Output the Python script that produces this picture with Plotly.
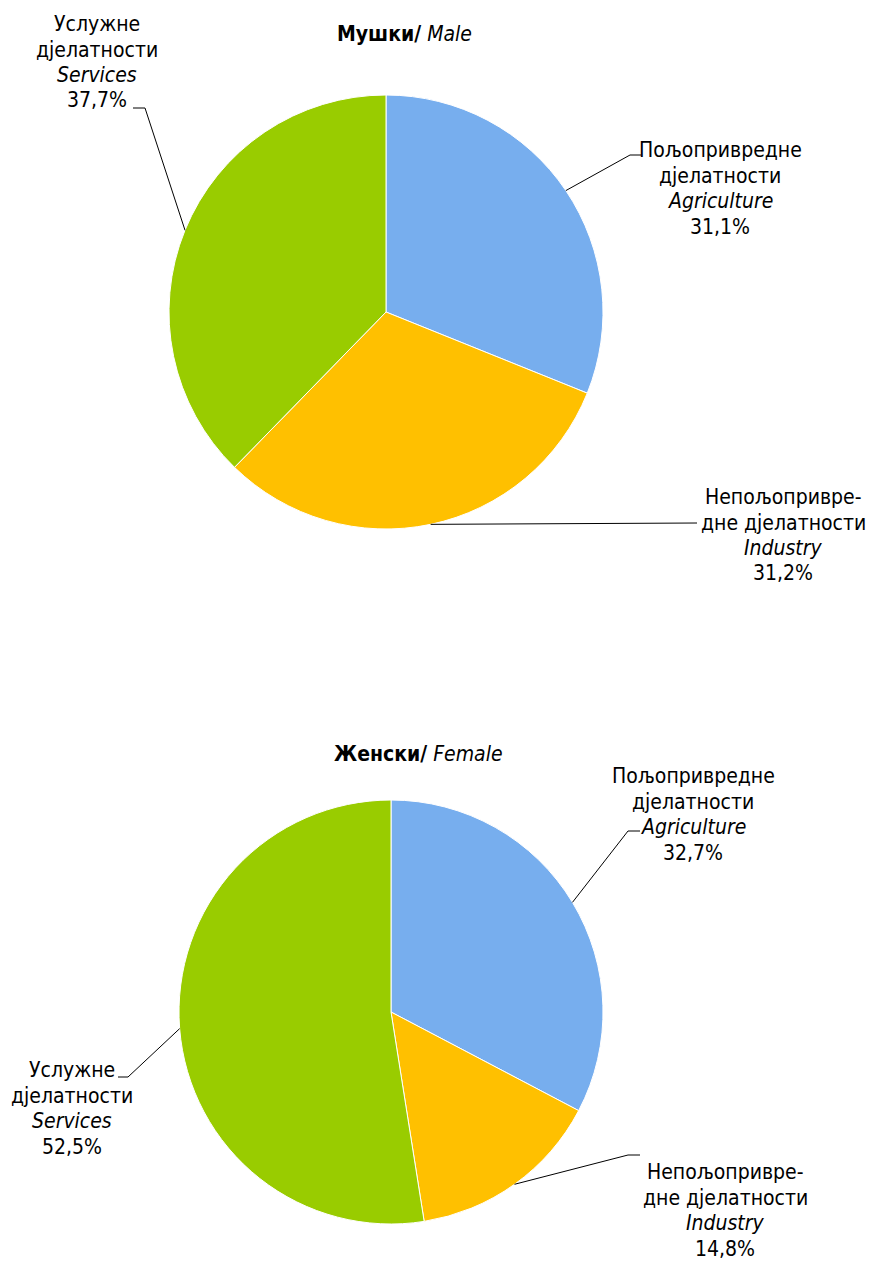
import math

import plotly.graph_objects as go

# the page body has an 8px margin, so the figure sits at (8, 8) in the window
OFFSET = 8
W, H = 874 - OFFSET, 1262 - OFFSET

# data
sector_sr_line1 = ["Пољопривредне", "Непољопривре-", "Услужне"]
sector_sr_line2 = ["дјелатности", "дне дјелатности", "дјелатности"]
sector_en = ["Agriculture", "Industry", "Services"]
male_values = [31.1, 31.2, 37.7]
female_values = [32.7, 14.8, 52.5]
panel_titles = [("Мушки", "Male"), ("Женски", "Female")]
colors = ["#77AEEE", "#FFC000", "#99CC00"]

FONT = "DejaVu Sans Condensed, DejaVu Sans, sans-serif"
FONT_SIZE = 21
LINE_GAP = 25.5

# layout per panel (window pixel positions): pie box, title, label anchors
panels = [
    dict(
        values=male_values,
        box=(169, 95, 603, 529),
        title_xy=(404, 34),
        labels=[
            dict(cx=720, y0=150, elbow=(630, 155), end=(641, 155)),
            dict(cx=783, y0=497, elbow=(697, 523), end=(697, 523)),
            dict(cx=97, y0=24, elbow=(145, 108), end=(133, 108)),
        ],
    ),
    dict(
        values=female_values,
        box=(179, 800, 603, 1224),
        title_xy=(418, 754),
        labels=[
            dict(cx=693, y0=776, elbow=(628, 831), end=(640, 831)),
            dict(cx=725, y0=1172, elbow=(628, 1155), end=(640, 1155)),
            dict(cx=72, y0=1070, elbow=(128, 1077), end=(118, 1077)),
        ],
    ),
]


def px(x):
    return (x - OFFSET) / W


def py(y):
    return 1 - (y - OFFSET) / H


def fmt_pct(v):
    return f"{v:.1f}".replace(".", ",") + "%"


fig = go.Figure()
annotations = []
shapes = []

for (sr_title, en_title), panel in zip(panel_titles, panels):
    x0, y0, x1, y1 = panel["box"]
    values = panel["values"]
    fig.add_trace(
        go.Pie(
            values=values,
            labels=sector_en,
            sort=False,
            direction="clockwise",
            rotation=0,
            textinfo="none",
            hoverinfo="label+percent",
            marker=dict(colors=colors, line=dict(color="white", width=1)),
            domain=dict(x=[px(x0), px(x1)], y=[py(y1), py(y0)]),
            showlegend=False,
        )
    )

    tx, ty = panel["title_xy"]
    annotations.append(
        dict(
            x=px(tx), y=py(ty), xref="paper", yref="paper",
            text=f"<b>{sr_title}/</b> <i>{en_title}</i>",
            showarrow=False, xanchor="center", yanchor="middle",
            font=dict(family=FONT, size=21, color="black"),
        )
    )

    # leader lines start at the middle of each slice's arc
    cx, cy = (x0 + x1) / 2, (y0 + y1) / 2
    r = (x1 - x0) / 2
    total = sum(values)
    cum = 0.0
    for i, v in enumerate(values):
        mid = (cum + v / 2) / total * 2 * math.pi
        cum += v
        ax, ay = cx + r * math.sin(mid), cy - r * math.cos(mid)
        lab = panel["labels"][i]
        ex, ey = lab["elbow"]
        fx, fy = lab["end"]
        shapes.append(
            dict(
                type="path", xref="paper", yref="paper",
                path=f"M {px(ax)},{py(ay)} L {px(ex)},{py(ey)} L {px(fx)},{py(fy)}",
                line=dict(color="black", width=1),
            )
        )
        lines = [sector_sr_line1[i], sector_sr_line2[i], f"<i>{sector_en[i]}</i>", fmt_pct(v)]
        for k, t in enumerate(lines):
            annotations.append(
                dict(
                    x=px(lab["cx"]), y=py(lab["y0"] + k * LINE_GAP),
                    xref="paper", yref="paper", text=t, showarrow=False,
                    xanchor="center", yanchor="middle",
                    font=dict(family=FONT, size=FONT_SIZE, color="black"),
                )
            )

fig.update_layout(
    width=W,
    height=H,
    margin=dict(l=0, r=0, t=0, b=0),
    paper_bgcolor="white",
    plot_bgcolor="white",
    annotations=annotations,
    shapes=shapes,
)

fig.write_html("out.html")
